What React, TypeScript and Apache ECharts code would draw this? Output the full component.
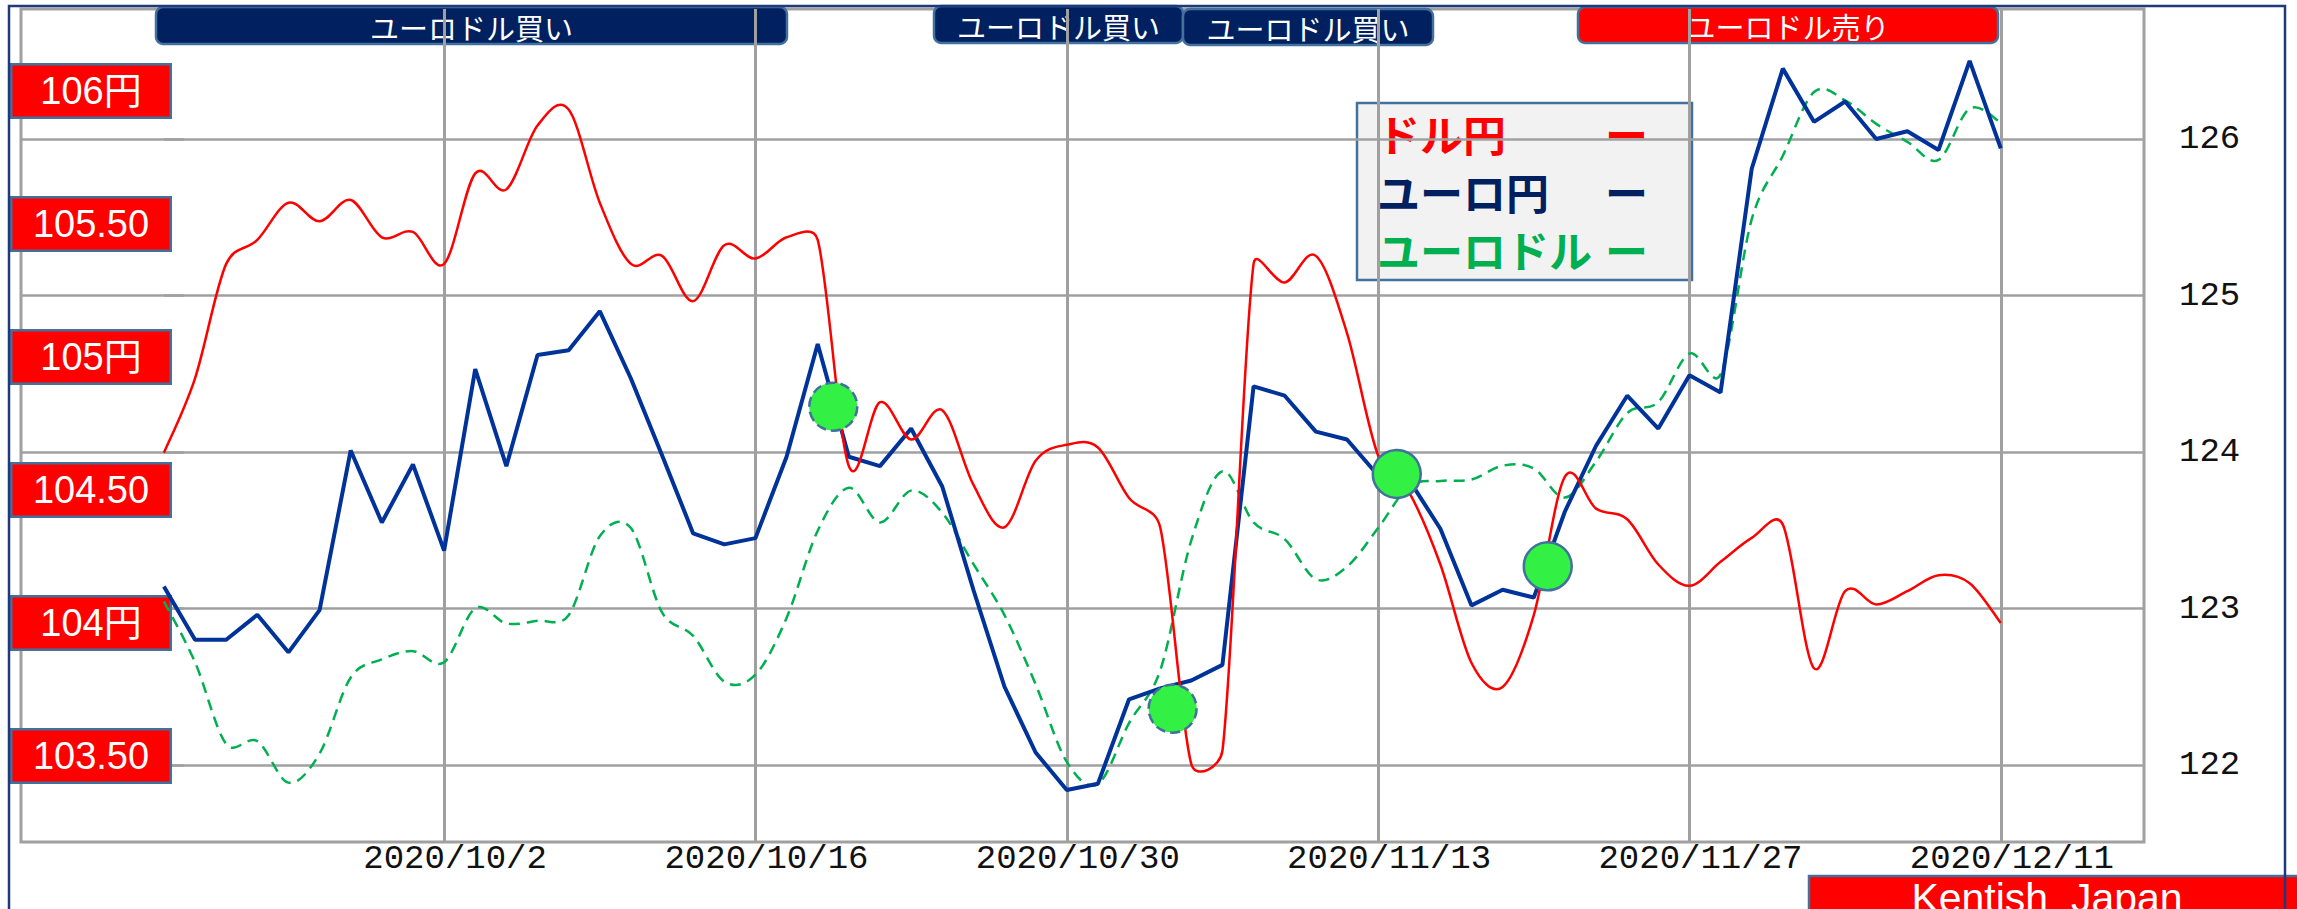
import React, { useEffect, useRef } from "react";
import * as echarts from "echarts";

// trading days (categories)
const dates = [
  "2020/9/21", "2020/9/22", "2020/9/23", "2020/9/24", "2020/9/25",
  "2020/9/28", "2020/9/29", "2020/9/30", "2020/10/1", "2020/10/2",
  "2020/10/5", "2020/10/6", "2020/10/7", "2020/10/8", "2020/10/9",
  "2020/10/12", "2020/10/13", "2020/10/14", "2020/10/15", "2020/10/16",
  "2020/10/19", "2020/10/20", "2020/10/21", "2020/10/22", "2020/10/23",
  "2020/10/26", "2020/10/27", "2020/10/28", "2020/10/29", "2020/10/30",
  "2020/11/2", "2020/11/3", "2020/11/4", "2020/11/5", "2020/11/6",
  "2020/11/9", "2020/11/10", "2020/11/11", "2020/11/12", "2020/11/13",
  "2020/11/16", "2020/11/17", "2020/11/18", "2020/11/19", "2020/11/20",
  "2020/11/23", "2020/11/24", "2020/11/25", "2020/11/26", "2020/11/27",
  "2020/11/30", "2020/12/1", "2020/12/2", "2020/12/3", "2020/12/4",
  "2020/12/7", "2020/12/8", "2020/12/9", "2020/12/10", "2020/12/11",
];

// ドル円
const usdJpy = [
  104.64, 104.92, 105.35, 105.44, 105.58, 105.51, 105.59, 105.45, 105.47, 105.35,
  105.69, 105.63, 105.87, 105.93, 105.58, 105.35, 105.38, 105.21, 105.42, 105.37,
  105.45, 105.44, 104.59, 104.83, 104.69, 104.80, 104.52, 104.36, 104.61, 104.67,
  104.66, 104.47, 104.36, 103.47, 103.52, 105.35, 105.28, 105.38, 105.09, 104.63,
  104.49, 104.22, 103.85, 103.76, 104.03, 104.55, 104.43, 104.39, 104.22, 104.14,
  104.23, 104.32, 104.37, 103.83, 104.12, 104.07, 104.12, 104.18, 104.15, 104.0,
];

// ユーロ円
const eurJpy = [
  123.14, 122.80, 122.80, 122.96, 122.72, 122.99, 124.01, 123.55, 123.92, 123.37,
  124.53, 123.91, 124.62, 124.65, 124.90, 124.47, 123.98, 123.48, 123.41, 123.45,
  123.97, 124.69, 123.97, 123.91, 124.15, 123.78, 123.12, 122.50, 122.08, 121.84,
  121.88, 122.42, 122.49, 122.54, 122.64, 124.42, 124.36, 124.13, 124.08, 123.85,
  123.82, 123.51, 123.02, 123.12, 123.07, 123.62, 124.04, 124.36, 124.15, 124.49,
  124.38, 125.81, 126.45, 126.11, 126.24, 126.00, 126.05, 125.93, 126.50, 125.94,
];

// ユーロドル
const eurUsd = [
  1.1762, 1.1718, 1.1659, 1.1661, 1.1631, 1.1652, 1.1707, 1.1720, 1.1726, 1.1718,
  1.1757, 1.1746, 1.1748, 1.1752, 1.1809, 1.1815, 1.1754, 1.1737, 1.1704, 1.1709,
  1.1750, 1.1813, 1.1844, 1.1819, 1.1842, 1.1826, 1.1789, 1.1752, 1.1702, 1.1646,
  1.1630, 1.1674, 1.1712, 1.1806, 1.1856, 1.1819, 1.1807, 1.1778, 1.1787, 1.1815,
  1.1845, 1.1849, 1.1850, 1.1860, 1.1858, 1.1837, 1.1863, 1.1898, 1.1906, 1.1941,
  1.1926, 1.2038, 1.2084, 1.2130, 1.2124, 1.2107, 1.2094, 1.2081, 1.2118, 1.2108,
];

// signal markers (position in trading-day index, ユーロ円 value)
const signalIndex = [21.5, 32.4, 39.6, 44.45];
const signalValue = [124.29, 122.36, 123.86, 123.27];
const signalDashed = [true, true, false, false];

// axis ticks
const xLabelIndex = [9, 19, 29, 39, 49, 59];
const eurJpyTicks = [122, 123, 124, 125, 126];
const usdJpyTicks = [103.5, 104, 104.5, 105, 105.5, 106];
const usdJpyTickText = ["103.50", "104円", "104.50", "105円", "105.50", "106円"];

// legend
const legendNames = ["ドル円", "ユーロ円", "ユーロドル"];
const legendColors = ["#ff0000", "#002060", "#00b050"];

// top signal banners
const bannerTexts = ["ユーロドル買い", "ユーロドル買い", "ユーロドル買い", "ユーロドル売り"];
const bannerFills = ["#002060", "#002060", "#002060", "#ff0000"];

const CJK = "'Noto Sans CJK JP', 'Noto Sans', sans-serif";
const MONO = "'Liberation Mono', 'DejaVu Sans Mono', monospace";
const GRID = "#a0a0a0";

// spreadsheet-like smoothed line: Catmull-Rom tangents (1/6), clamped to half the segment
function clampVec(vx: number, vy: number, maxLen: number): number[] {
  const len = Math.hypot(vx, vy);
  if (len > maxLen && len > 0) {
    const s = maxLen / len;
    return [vx * s, vy * s];
  }
  return [vx, vy];
}

function smoothPath(p: number[][]): string {
  let d = `M${p[0][0]},${p[0][1]}`;
  for (let i = 0; i < p.length - 1; i++) {
    const p0 = p[i - 1] || p[i];
    const p1 = p[i];
    const p2 = p[i + 1];
    const p3 = p[i + 2] || p[i + 1];
    const half = Math.hypot(p2[0] - p1[0], p2[1] - p1[1]) / 2;
    const t1 = clampVec((p2[0] - p0[0]) / 6, (p2[1] - p0[1]) / 6, half);
    const t2 = clampVec((p3[0] - p1[0]) / 6, (p3[1] - p1[1]) / 6, half);
    const c1x = p1[0] + t1[0];
    const c1y = p1[1] + t1[1];
    const c2x = p2[0] - t2[0];
    const c2y = p2[1] - t2[1];
    d += ` C${c1x},${c1y} ${c2x},${c2y} ${p2[0]},${p2[1]}`;
  }
  return d;
}

function smoothSeries(
  name: string,
  values: number[],
  yAxisIndex: number,
  style: any,
  z: number
) {
  return {
    name,
    type: "custom",
    yAxisIndex,
    silent: true,
    clip: true,
    z,
    data: values.map((v, i) => [i, v]),
    encode: { x: 0, y: 1 },
    renderItem: (params: any, api: any) => {
      if (params.dataIndexInside !== 0) return null;
      const n = params.dataInsideLength;
      const pts: number[][] = [];
      for (let k = 0; k < n; k++) {
        pts.push(api.coord([api.value(0, k), api.value(1, k)]));
      }
      return {
        type: "path",
        shape: { pathData: smoothPath(pts) },
        style: { fill: "none", ...style },
      };
    },
  };
}

export default function App() {
  const ref = useRef<HTMLDivElement>(null);

  useEffect(() => {
    if (!ref.current) return;
    const chart = echarts.init(ref.current, undefined, { renderer: "svg" });

    const bannerBoxes = [
      { x: 156, y: 7, w: 631, h: 37 },
      { x: 934, y: 6, w: 249, h: 37 },
      { x: 1183, y: 9, w: 250, h: 36 },
      { x: 1578, y: 7, w: 420, h: 36 },
    ];

    const graphic: any[] = [];
    // outer frame
    graphic.push({
      type: "rect",
      silent: true,
      z: 50,
      shape: { x: 9, y: 6, width: 2276, height: 960 },
      style: { fill: "none", stroke: "#1f3a7a", lineWidth: 2.5 },
    });
    bannerBoxes.forEach((b, i) => {
      graphic.push({
        type: "group",
        x: b.x,
        y: b.y,
        z: 60,
        children: [
          {
            type: "rect",
            shape: { x: 0, y: 0, width: b.w, height: b.h, r: 7 },
            style: { fill: bannerFills[i], stroke: "#41719c", lineWidth: 2.5 },
          },
          {
            type: "text",
            style: {
              text: bannerTexts[i],
              x: b.w / 2,
              y: b.h / 2 + 1,
              align: "center",
              verticalAlign: "middle",
              fill: "#ffffff",
              fontSize: 29,
              lineHeight: 32,
              fontFamily: CJK,
            },
          },
        ],
      });
    });
    // legend box
    const legendChildren: any[] = [
      {
        type: "rect",
        shape: { x: 0, y: 0, width: 335, height: 177 },
        style: { fill: "#f2f2f2", stroke: "#41719c", lineWidth: 2.5 },
      },
    ];
    legendNames.forEach((n, i) => {
      legendChildren.push({
        type: "text",
        style: {
          text: n,
          x: 20,
          y: 30 + i * 58,
          align: "left",
          verticalAlign: "middle",
          fill: legendColors[i],
          fontSize: 43,
          lineHeight: 48,
          fontWeight: "bold",
          fontFamily: CJK,
        },
      });
      legendChildren.push({
        type: "text",
        style: {
          text: "ー",
          x: 248,
          y: 30 + i * 58,
          align: "left",
          verticalAlign: "middle",
          fill: legendColors[i],
          fontSize: 43,
          lineHeight: 48,
          fontWeight: "bold",
          fontFamily: CJK,
        },
      });
    });
    graphic.push({ type: "group", x: 1357, y: 103, z: 60, children: legendChildren });
    // credit box
    graphic.push({
      type: "group",
      x: 1809,
      y: 876,
      z: 60,
      children: [
        {
          type: "rect",
          shape: { x: 0, y: 0, width: 500, height: 60 },
          style: { fill: "#ff0000", stroke: "#41719c", lineWidth: 2.5 },
        },
        {
          type: "text",
          style: {
            text: "Kentish  Japan",
            x: 238,
            y: 22,
            align: "center",
            verticalAlign: "middle",
            fill: "#ffffff",
            fontSize: 41,
            lineHeight: 34,
            fontFamily: "'Liberation Sans', Arial, sans-serif",
          },
        },
      ],
    });

    const option: any = {
      animation: false,
      backgroundColor: "#ffffff",
      grid: {
        left: 21,
        right: 153,
        top: 9,
        bottom: 67,
        show: true,
        borderColor: GRID,
        borderWidth: 3,
        backgroundColor: "transparent",
      },
      xAxis: {
        type: "value",
        min: -4.59,
        max: 63.6,
        axisLine: { show: false },
        axisTick: { show: false, customValues: xLabelIndex },
        splitLine: { show: true, lineStyle: { color: GRID, width: 3 } },
        axisLabel: {
          customValues: xLabelIndex,
          formatter: (v: number) => dates[Math.round(v)] ?? "",
          fontFamily: MONO,
          fontSize: 34,
          lineHeight: 26,
          color: "#111111",
          margin: 4,
          padding: [0, 0, 0, 22],
        },
      },
      yAxis: [
        {
          type: "value",
          position: "right",
          min: 121.508,
          max: 126.831,
          axisLine: { show: false },
          axisTick: {
            show: true,
            length: 20,
            customValues: eurJpyTicks,
            lineStyle: { color: GRID, width: 2.5 },
          },
          splitLine: { show: true, lineStyle: { color: GRID, width: 2.5 } },
          axisLabel: {
            customValues: eurJpyTicks,
            margin: 35,
            fontFamily: MONO,
            fontSize: 34,
            color: "#111111",
          },
        },
        {
          type: "value",
          position: "left",
          min: 103.177,
          max: 106.308,
          axisLine: { show: false },
          axisTick: { show: false },
          splitLine: { show: false },
          axisLabel: {
            customValues: usdJpyTicks,
            inside: true,
            margin: 70,
            align: "center",
            verticalAlign: "middle",
            formatter: (v: number) => {
              const k = usdJpyTicks.findIndex((t) => Math.abs(t - v) < 1e-6);
              return k >= 0 ? usdJpyTickText[k] : "";
            },
            color: "#ffffff",
            fontSize: 38,
            fontFamily: "'Liberation Sans', 'Noto Sans CJK JP', sans-serif",
            backgroundColor: "#ff0000",
            borderColor: "#41719c",
            borderWidth: 2.5,
            width: 157,
            height: 51,
            lineHeight: 51,
            padding: 0,
          },
        },
        {
          type: "value",
          position: "left",
          show: false,
          min: 1.15881,
          max: 1.219,
        },
      ],
      series: [
        smoothSeries(
          "ユーロドル",
          eurUsd,
          2,
          { stroke: "#00b050", lineWidth: 2.5, lineDash: [11, 7] },
          2
        ),
        {
          name: "ユーロ円",
          type: "line",
          yAxisIndex: 0,
          data: eurJpy.map((v, i) => [i, v]),
          showSymbol: false,
          symbol: "none",
          lineStyle: { color: "#003399", width: 4 },
          z: 3,
        },
        smoothSeries(
          "ドル円",
          usdJpy,
          1,
          { stroke: "#ff0000", lineWidth: 2.5 },
          4
        ),
        {
          name: "signal",
          type: "scatter",
          yAxisIndex: 0,
          symbolSize: 48,
          data: signalIndex.map((x, i) => ({
            value: [x, signalValue[i]],
            itemStyle: {
              color: "#32f044",
              opacity: 1,
              borderColor: "#41719c",
              borderWidth: 2.5,
              borderType: signalDashed[i] ? "dashed" : "solid",
            },
          })),
          z: 6,
        },
      ],
      graphic,
    };

    chart.setOption(option);
    return () => chart.dispose();
  }, []);

  return (
    <div
      ref={ref}
      style={{ position: "fixed", left: 0, top: 0, width: 2297, height: 909 }}
    />
  );
}
